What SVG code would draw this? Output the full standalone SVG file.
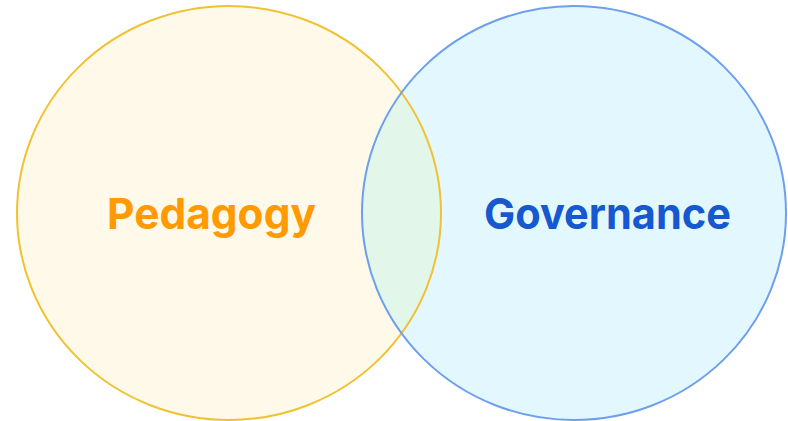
<svg xmlns="http://www.w3.org/2000/svg" width="788" height="421" viewBox="0 0 788 421">
<style>
.lbl{font-family:Inter,"Open Sans","Liberation Sans",sans-serif;font-weight:700;font-size:43px;text-anchor:middle}
</style>
<defs>
<clipPath id="c1"><ellipse cx="229" cy="213" rx="212" ry="207"/></clipPath>
</defs>
<rect width="788" height="421" fill="#ffffff"/>
<g id="pedagogy-fill"><ellipse cx="229" cy="213" rx="212" ry="207" fill="#FEF9E8"/></g>
<g id="governance-fill"><ellipse cx="574" cy="213" rx="212" ry="207" fill="#E2F8FE"/></g>
<g id="overlap"><ellipse cx="574" cy="213" rx="212" ry="207" fill="#E3F6EA" clip-path="url(#c1)"/></g>
<g id="pedagogy">
<ellipse cx="229" cy="213" rx="212" ry="207" fill="none" stroke="#F0C232" stroke-width="2"/>
<text class="lbl" x="211.5" y="229" fill="#FF9A00" textLength="209" lengthAdjust="spacingAndGlyphs">Pedagogy</text>
</g>
<g id="governance">
<ellipse cx="574" cy="213" rx="212" ry="207" fill="none" stroke="#6D9FEE" stroke-width="2"/>
<text class="lbl" x="607.5" y="229" fill="#1558D0" textLength="247" lengthAdjust="spacingAndGlyphs">Governance</text>
</g>
<g id="connectors"/>
</svg>
